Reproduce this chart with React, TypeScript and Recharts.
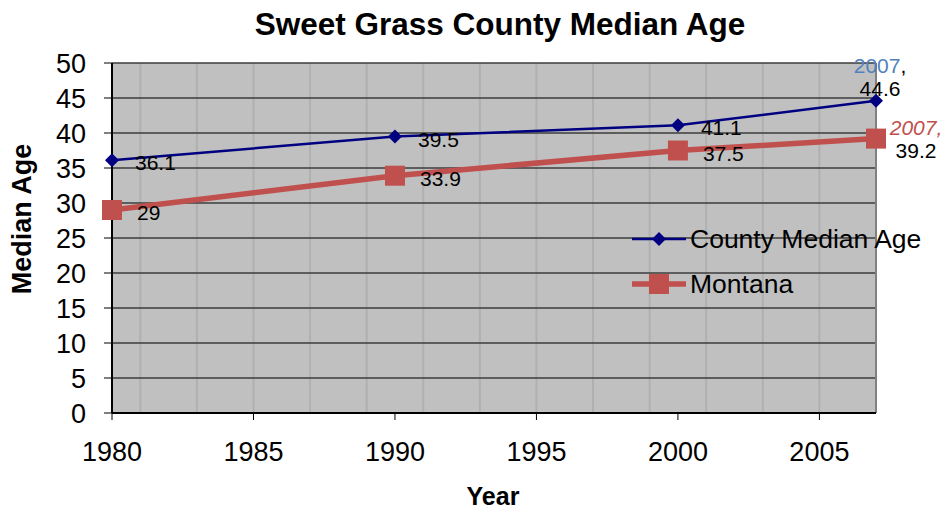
import React from "react";
import {
  LineChart,
  Line,
  XAxis,
  YAxis,
  CartesianGrid,
  LabelList,
  ReferenceLine,
} from "recharts";

const years = [1980, 1990, 2000, 2007];
const countyAge = [36.1, 39.5, 41.1, 44.6];
const montanaAge = [29, 33.9, 37.5, 39.2];
const xTicks = [1980, 1985, 1990, 1995, 2000, 2005];
const yTicks = [0, 5, 10, 15, 20, 25, 30, 35, 40, 45, 50];
const gridYears = [
  1980, 1981, 1982, 1983, 1984, 1985, 1986, 1987, 1988, 1989, 1990, 1991, 1992, 1993,
  1994, 1995, 1996, 1997, 1998, 1999, 2000, 2001, 2002, 2003, 2004, 2005, 2006, 2007,
];

const COUNTY = "#000080";
const MONTANA = "#c0504d";
const FONT = "'Liberation Sans', Arial, sans-serif";
const LABEL_SIZE = 21;

const data = years.map((year, i) => ({
  year,
  county: countyAge[i],
  montana: montanaAge[i],
}));

const lastIndex = years.length - 1;

function Diamond(props: any) {
  const { cx, cy } = props;
  if (cx == null || cy == null) return null;
  const r = 7;
  return (
    <polygon
      points={`${cx},${cy - r} ${cx + r},${cy} ${cx},${cy + r} ${cx - r},${cy}`}
      fill={COUNTY}
    />
  );
}

function Square(props: any) {
  const { cx, cy } = props;
  if (cx == null || cy == null) return null;
  return <rect x={cx - 10} y={cy - 10} width={20} height={20} fill={MONTANA} />;
}

function CountyLabel(props: any) {
  const { x, y, value, index } = props;
  if (index === lastIndex) {
    return (
      <text fontSize={LABEL_SIZE} fontFamily={FONT} textAnchor="middle">
        <tspan x={x + 4} y={y - 28}>
          <tspan fill="#4f81bd">{years[index]}</tspan>
          <tspan fill="#000">,</tspan>
        </tspan>
        <tspan x={x + 4} y={y - 5} fill="#000">
          {value}
        </tspan>
      </text>
    );
  }
  return (
    <text x={x + 23} y={y + 10} fontSize={LABEL_SIZE} fontFamily={FONT} fill="#000">
      {value}
    </text>
  );
}

function MontanaLabel(props: any) {
  const { x, y, value, index } = props;
  if (index === lastIndex) {
    return (
      <text fontSize={LABEL_SIZE} fontFamily={FONT} textAnchor="middle">
        <tspan x={x + 40} y={y - 4} fill={MONTANA} fontStyle="italic">
          {years[index]},
        </tspan>
        <tspan x={x + 40} y={y + 19} fill="#000">
          {value}
        </tspan>
      </text>
    );
  }
  return (
    <text x={x + 25} y={y + 10} fontSize={LABEL_SIZE} fontFamily={FONT} fill="#000">
      {value}
    </text>
  );
}

const legendItems = [
  { name: "County Median Age", color: COUNTY, width: 2.5, marker: "diamond", y: 239 },
  { name: "Montana", color: MONTANA, width: 5.5, marker: "square", y: 284 },
];

export default function App() {
  return (
    <div
      style={{
        position: "absolute",
        left: 0,
        top: 0,
        width: 945,
        height: 511,
        background: "#fff",
        fontFamily: FONT,
      }}
    >
      <LineChart
        width={945}
        height={511}
        data={data}
        margin={{ top: 63, right: 69, bottom: 58, left: 0 }}
      >
        <XAxis
          xAxisId="grid"
          type="number"
          dataKey="year"
          domain={[1980, 2007]}
          ticks={gridYears}
          hide
        />
        <CartesianGrid
          xAxisId="grid"
          horizontal={false}
          stroke="#b0b0b0"
          strokeWidth={2}
          fill="#c0c0c0"
        />
        <CartesianGrid vertical={false} stroke="#3c3c3c" strokeWidth={1.5} />
        <XAxis
          type="number"
          dataKey="year"
          domain={[1980, 2007]}
          ticks={xTicks}
          interval={0}
          height={40}
          tickSize={7}
          tickMargin={22}
          axisLine={{ stroke: "#000", strokeWidth: 2 }}
          tickLine={{ stroke: "#000" }}
          tick={{ fontSize: 27, fill: "#000", fontFamily: FONT }}
        />
        <YAxis
          domain={[0, 50]}
          ticks={yTicks}
          interval={0}
          width={112}
          tickSize={8}
          tickMargin={18}
          axisLine={{ stroke: "#000", strokeWidth: 2 }}
          tickLine={{ stroke: "#000" }}
          tick={{ fontSize: 27, fill: "#000", fontFamily: FONT }}
        />
        <ReferenceLine x={2007} stroke="#808080" strokeWidth={2} />
        <Line
          dataKey="county"
          name="County Median Age"
          stroke={COUNTY}
          strokeWidth={2.5}
          dot={<Diamond />}
          activeDot={false}
          isAnimationActive={false}
        >
          <LabelList dataKey="county" content={<CountyLabel />} />
        </Line>
        <Line
          dataKey="montana"
          name="Montana"
          stroke={MONTANA}
          strokeWidth={5.5}
          dot={<Square />}
          activeDot={false}
          isAnimationActive={false}
        >
          <LabelList dataKey="montana" content={<MontanaLabel />} />
        </Line>
      </LineChart>
      <svg
        width={945}
        height={511}
        style={{ position: "absolute", left: 0, top: 0, pointerEvents: "none" }}
        fontFamily={FONT}
      >
        <text x={500} y={35} textAnchor="middle" fontSize={31.5} fontWeight="bold">
          Sweet Grass County Median Age
        </text>
        <text
          x={31}
          y={219}
          textAnchor="middle"
          fontSize={27}
          fontWeight="bold"
          transform="rotate(-90, 31, 219)"
        >
          Median Age
        </text>
        <text x={493} y={505} textAnchor="middle" fontSize={25} fontWeight="bold">
          Year
        </text>
        {legendItems.map((item) => (
          <g key={item.name}>
            <line
              x1={632}
              x2={686}
              y1={item.y}
              y2={item.y}
              stroke={item.color}
              strokeWidth={item.width}
            />
            {item.marker === "diamond" ? (
              <polygon
                points={`659,${item.y - 7} 666,${item.y} 659,${item.y + 7} 652,${item.y}`}
                fill={item.color}
              />
            ) : (
              <rect x={649} y={item.y - 10} width={20} height={20} fill={item.color} />
            )}
            <text x={690} y={item.y + 9} fontSize={26.5} fill="#000">
              {item.name}
            </text>
          </g>
        ))}
      </svg>
    </div>
  );
}
